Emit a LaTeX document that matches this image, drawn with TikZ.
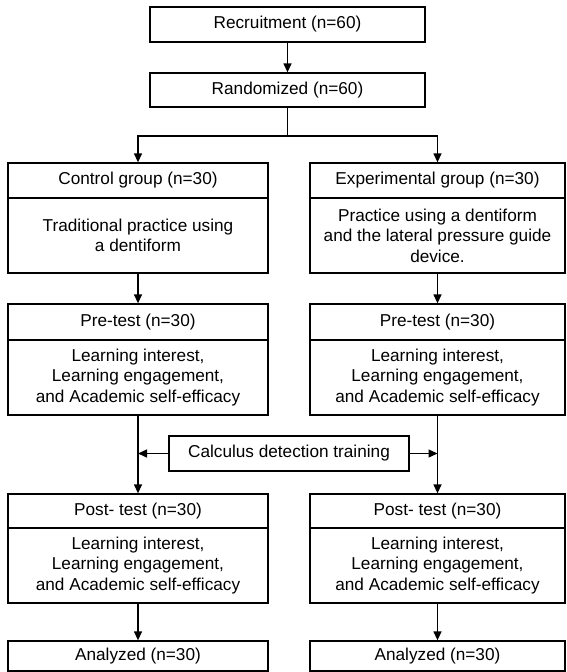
\documentclass[tikz,border=0pt]{standalone}
\usepackage{fontspec}
\setmainfont{Liberation Sans}
\usetikzlibrary{arrows.meta}
\begin{document}
\begin{tikzpicture}[x=1pt,y=-1pt,
  box/.style={draw, line width=1.3pt, rectangle, inner sep=0pt, align=center,
    font=\fontsize{17.2}{20.5}\selectfont},
  lbox/.style={box, minimum width=260pt},
  rbox/.style={box, minimum width=255pt},
  arr/.style={-{Triangle[length=9pt,width=8pt]}, line width=1.3pt},
  ln/.style={line width=1.3pt}]
\useasboundingbox (0,0) rectangle (566,672);
% top
\node[box, minimum width=275pt, minimum height=35pt] (rec) at (287.5,24.5) {Recruitment (n=60)};
\node[box, minimum width=275pt, minimum height=34pt] (rand) at (287.5,90) {Randomized (n=60)};
\coordinate (split) at (287.5,136);
% groups
\node[lbox, minimum height=35pt] (ctrlH) at (138,180.5) {Control group (n=30)};
\node[lbox, minimum height=75pt] (ctrlB) at (138,235.5) {Traditional practice using\\a dentiform};
\node[rbox, minimum height=35pt] (expH) at (437.5,180.5) {Experimental group (n=30)};
\node[rbox, minimum height=75pt] (expB) at (437.5,235.5) {Practice using a dentiform\\and the lateral pressure guide\\device.};
% pre-test
\node[lbox, minimum height=36pt] (preLH) at (138,322) {Pre-test (n=30)};
\node[lbox, minimum height=75pt] (preLB) at (138,377.5) {Learning interest,\\Learning engagement,\\and Academic self-efficacy};
\node[rbox, minimum height=36pt] (preRH) at (437.5,322) {Pre-test (n=30)};
\node[rbox, minimum height=75pt] (preRB) at (437.5,377.5) {Learning interest,\\Learning engagement,\\and Academic self-efficacy};
% calculus
\node[box, minimum width=240pt, minimum height=35pt] (calc) at (289,453.5) {Calculus detection training};
% post-test
\node[lbox, minimum height=34pt] (postLH) at (138,511) {Post- test (n=30)};
\node[lbox, minimum height=75pt] (postLB) at (138,565.5) {Learning interest,\\Learning engagement,\\and Academic self-efficacy};
\node[rbox, minimum height=34pt] (postRH) at (437.5,511) {Post- test (n=30)};
\node[rbox, minimum height=75pt] (postRB) at (437.5,565.5) {Learning interest,\\Learning engagement,\\and Academic self-efficacy};
% analyzed
\node[lbox, minimum height=30pt] (anL) at (138,656) {Analyzed (n=30)};
\node[rbox, minimum height=30pt] (anR) at (437.5,656) {Analyzed (n=30)};
% connectors
\draw[arr] (rec.south) -- (rand.north);
\draw[ln] (rand.south) -- (split);
\draw[arr] (split) -| (ctrlH.north);
\draw[arr] (split) -| (expH.north);
\draw[arr] (ctrlB.south) -- (preLH.north);
\draw[arr] (expB.south) -- (preRH.north);
\draw[arr] (preLB.south) -- (postLH.north);
\draw[arr] (preRB.south) -- (postRH.north);
\draw[arr] (calc.west) -- (calc.west -| preLB.south);
\draw[arr] (calc.east) -- (calc.east -| preRB.south);
\draw[arr] (postLB.south) -- (anL.north);
\draw[arr] (postRB.south) -- (anR.north);
\end{tikzpicture}
\end{document}
